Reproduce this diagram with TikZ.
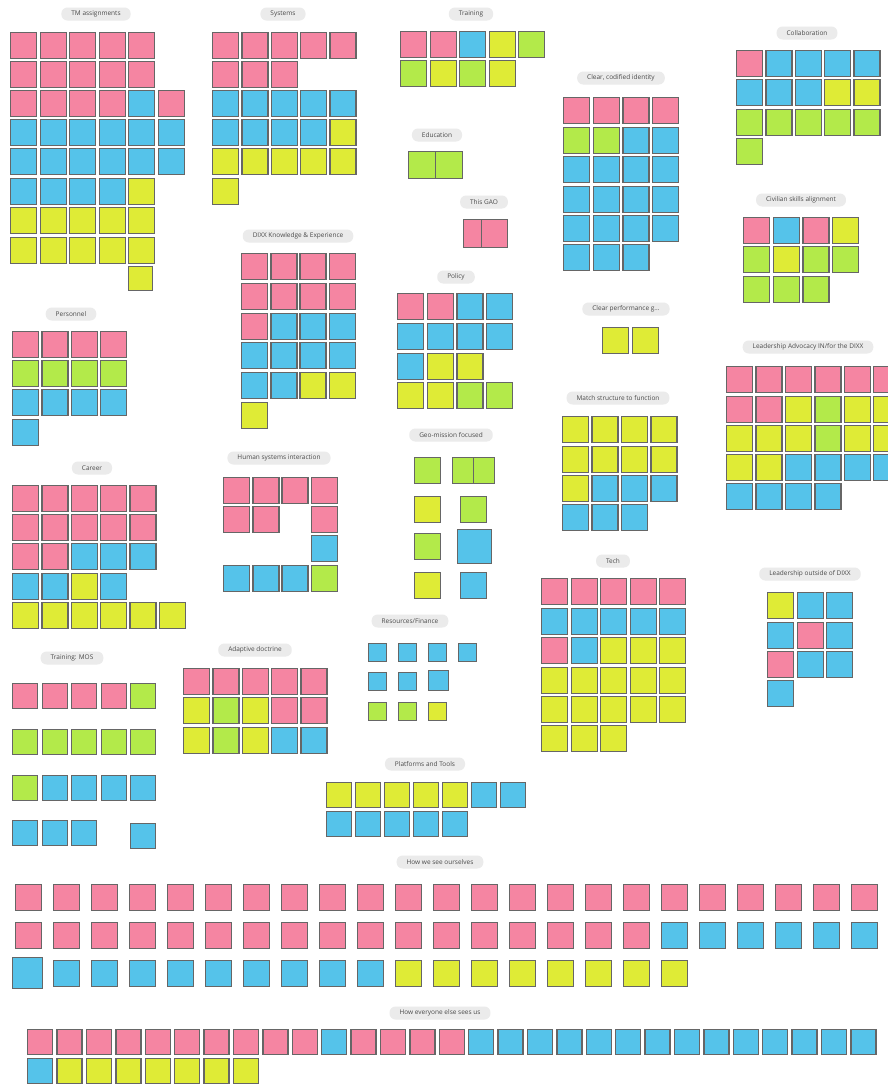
\documentclass[tikz,border=0pt]{standalone}
\usepackage{fontspec}
\newfontfamily\tfont{Open Sans}
\definecolor{cP}{HTML}{F585A2}
\definecolor{cB}{HTML}{55C3EA}
\definecolor{cY}{HTML}{DFEB36}
\definecolor{cG}{HTML}{B3EA4A}
\definecolor{pillbg}{HTML}{EBEBEB}
\definecolor{pilltx}{HTML}{4A4A4A}
\definecolor{edge}{HTML}{666666}
\newcounter{nt}
\newcommand\strow[5]{%
  \foreach \c [count=\i from 0] in {#5}{%
    \stepcounter{nt}%
    \node[note, fill=c\c, minimum width=#4pt, minimum height=#4pt] (s\thent) at ({#1+\i*#3},#2) {};}}
\newcommand\stone[5]{% x,y,w,h,colour
  \stepcounter{nt}%
  \node[note, fill=c#5, minimum width=#3pt, minimum height=#4pt] (s\thent) at (#1,#2) {};}
\begin{document}
\begin{tikzpicture}[x=1pt,y=-1pt,
  note/.style={draw=edge, line width=1.3pt, anchor=north west, inner sep=0pt, rectangle},
  pill/.style={fill=pillbg, rounded corners=6pt, text=pilltx, font=\tfont\fontsize{6.5}{7}\selectfont, inner xsep=10pt, inner ysep=0pt, minimum height=13pt}]
\fill[white] (0,0) rectangle (888,1085);
\useasboundingbox (0,0) rectangle (888,1085);

% TM assignments
\node[pill] (t1) at (96,14) {TM assignments};
\strow{10}{32}{29.5}{26}{P,P,P,P,P}
\strow{10}{61}{29.5}{26}{P,P,P,P,P}
\strow{10}{90}{29.5}{26}{P,P,P,P,B,P}
\strow{10}{119}{29.5}{26}{B,B,B,B,B,B}
\strow{10}{148}{29.5}{26}{B,B,B,B,B,B}
\strow{10}{178}{29.5}{26}{B,B,B,B,Y}
\strow{10}{207}{29.5}{26}{Y,Y,Y,Y,Y}
\strow{10}{237}{29.5}{26}{Y,Y,Y,Y,Y}
\stone{128}{266}{24}{24}{Y}

% Systems
\node[pill] (t2) at (283,14) {Systems};
\strow{212}{32}{29.3}{26}{P,P,P,P,P}
\strow{212}{61}{29.3}{26}{P,P,P}
\strow{212}{90}{29.3}{26}{B,B,B,B,B}
\strow{212}{119}{29.3}{26}{B,B,B,B,Y}
\strow{212}{148}{29.3}{26}{Y,Y,Y,Y,Y}
\strow{212}{178}{29.3}{26}{Y}

% Training
\node[pill] (t3) at (471,14) {Training};
\strow{400}{31}{29.5}{26}{P,P,B,Y,G}
\strow{400}{60}{29.5}{26}{G,Y,G,Y}

% Education
\node[pill] (t4) at (437,135) {Education};
\strow{408}{151}{27}{27}{G,G}

% This GAO
\node[pill] (t5) at (484,202) {This GAO};
\stone{463}{219}{18}{28}{P}
\stone{481}{219}{26}{28}{P}

% Clear, codified identity
\node[pill] (t6) at (621,78) {Clear, codified identity};
\strow{563}{97}{29.7}{26}{P,P,P,P}
\strow{563}{127}{29.7}{26}{G,G,B,B}
\strow{563}{156}{29.7}{26}{B,B,B,B}
\strow{563}{186}{29.7}{26}{B,B,B,B}
\strow{563}{215}{29.7}{26}{B,B,B,B}
\strow{563}{244}{29.7}{26}{B,B,B}

% Collaboration
\node[pill] (t7) at (807,33) {Collaboration};
\strow{736}{50}{29.3}{26}{P,B,B,B,B}
\strow{736}{79}{29.3}{26}{B,B,B,Y,Y}
\strow{736}{109}{29.3}{26}{G,G,G,G,G}
\strow{736}{138}{29.3}{26}{G}

% Civilian skills alignment
\node[pill] (t8) at (801,200) {Civilian skills alignment};
\strow{743}{217}{29.7}{26}{P,B,P,Y}
\strow{743}{246}{29.7}{26}{G,Y,G,G}
\strow{743}{276}{29.7}{26}{G,G,G}

% Personnel
\node[pill] (t9) at (71,314) {Personnel};
\strow{12}{331}{29.3}{26}{P,P,P,P}
\strow{12}{360}{29.3}{26}{G,G,G,G}
\strow{12}{389}{29.3}{26}{B,B,B,B}
\strow{12}{419}{29.3}{26}{B}

% Career
\node[pill] (t10) at (92,468) {Career};
\strow{12}{485}{29.3}{26}{P,P,P,P,P}
\strow{12}{514}{29.3}{26}{P,P,P,P,P}
\strow{12}{543}{29.3}{26}{P,P,B,B,B}
\strow{12}{573}{29.3}{26}{B,B,Y,B}
\strow{12}{602}{29.3}{26}{Y,Y,Y,Y,Y,Y}

% Human systems interaction
\node[pill] (t11) at (279,458) {Human systems interaction};
\strow{223}{477}{29.2}{26}{P,P,P,P}
\strow{223}{506}{29.2}{26}{P,P}
\stone{310.6}{506}{26}{26}{P}
\stone{310.6}{535}{26}{26}{B}
\strow{223}{565}{29.2}{26}{B,B,B,G}

% DIXX Knowledge & Experience
\node[pill] (t12) at (298,236) {DIXX Knowledge \& Experience};
\strow{241}{253}{29.2}{26}{P,P,P,P}
\strow{241}{283}{29.2}{26}{P,P,P,P}
\strow{241}{313}{29.2}{26}{P,B,B,B}
\strow{241}{342}{29.2}{26}{B,B,B,B}
\strow{241}{372}{29.2}{26}{B,B,Y,Y}
\strow{241}{402}{29.2}{26}{Y}

% Policy
\node[pill] (t13) at (456,277) {Policy};
\strow{397}{293}{29.7}{26}{P,P,B,B}
\strow{397}{323}{29.7}{26}{B,B,B,B}
\strow{397}{353}{29.7}{26}{B,Y,Y}
\strow{397}{382}{29.7}{26}{Y,Y,G,G}

% Geo-mission focused
\node[pill] (t14) at (451,435) {Geo-mission focused};
\stone{414}{457}{26}{26}{G}
\stone{452}{457}{21}{26}{G}
\stone{473}{457}{21}{26}{G}
\stone{414}{496}{26}{26}{Y}
\stone{460}{496}{26}{26}{G}
\stone{414}{533}{26}{26}{G}
\stone{457}{529}{34}{34}{B}
\stone{414}{572}{26}{26}{Y}
\stone{460}{572}{26}{26}{B}

% Clear performance g...
\node[pill] (t15) at (626,309) {Clear performance g...};
\strow{602}{327}{30}{26}{Y,Y}

% Match structure to function
\node[pill] (t16) at (618,398) {Match structure to function};
\strow{562}{416}{29.4}{26}{Y,Y,Y,Y}
\strow{562}{446}{29.4}{26}{Y,Y,Y,Y}
\strow{562}{475}{29.4}{26}{Y,B,B,B}
\strow{562}{504}{29.4}{26}{B,B,B}

% Leadership Advocacy
\node[pill] (t17) at (808,347) {Leadership Advocacy IN/for the DIXX};
\strow{726}{366}{29.4}{26}{P,P,P,P,P,P}
\strow{726}{396}{29.4}{26}{P,P,Y,G,Y,Y}
\strow{726}{425}{29.4}{26}{Y,Y,Y,G,Y,Y}
\strow{726}{454}{29.4}{26}{Y,Y,B,B,B,B}
\strow{726}{483}{29.4}{26}{B,B,B,B}

% Tech
\node[pill] (t18) at (613,561) {Tech};
\strow{541}{578}{29.5}{26}{P,P,P,P,P}
\strow{541}{608}{29.5}{26}{B,B,B,B,B}
\strow{541}{637}{29.5}{26}{P,B,Y,Y,Y}
\strow{541}{667}{29.5}{26}{Y,Y,Y,Y,Y}
\strow{541}{696}{29.5}{26}{Y,Y,Y,Y,Y}
\strow{541}{725}{29.5}{26}{Y,Y,Y}

% Leadership outside of DIXX
\node[pill] (t19) at (810,574) {Leadership outside of DIXX};
\strow{767}{592}{29.5}{26}{Y,B,B}
\strow{767}{622}{29.5}{26}{B,P,B}
\strow{767}{651}{29.5}{26}{P,B,B}
\strow{767}{680}{29.5}{26}{B}

% Training: MOS
\node[pill] (t20) at (72,658) {Training: MOS};
\strow{12}{683}{29.5}{25}{P,P,P,P,G}
\strow{12}{729}{29.5}{25}{G,G,G,G,G}
\strow{12}{775}{29.5}{25}{G,B,B,B,B}
\strow{12}{820}{29.5}{25}{B,B,B}
\stone{130}{823}{25}{25}{B}

% Adaptive doctrine
\node[pill] (t21) at (255,650) {Adaptive doctrine};
\strow{183}{668}{29.3}{26}{P,P,P,P,P}
\strow{183}{697}{29.3}{26}{Y,G,Y,P,P}
\strow{183}{727}{29.3}{26}{Y,G,Y,B,B}

% Resources/Finance
\node[pill] (t22) at (410,621) {Resources/Finance};
\strow{368}{643}{30}{18}{B,B,B,B}
\strow{368}{672}{30}{18}{B,B}
\stone{428}{670}{20}{20}{B}
\strow{368}{702}{30}{18}{G,G,Y}

% Platforms and Tools
\node[pill] (t23) at (425,764) {Platforms and Tools};
\strow{326}{782}{29}{25}{Y,Y,Y,Y,Y,B,B}
\strow{326}{811}{29}{25}{B,B,B,B,B}

% How we see ourselves
\node[pill] (t24) at (440,862) {How we see ourselves};
\strow{15}{884}{38}{26}{P,P,P,P,P,P,P,P,P,P,P,P,P,P,P,P,P,P,P,P,P,P,P}
\strow{15}{922}{38}{26}{P,P,P,P,P,P,P,P,P,P,P,P,P,P,P,P,P,B,B,B,B,B,B}
\stone{12}{957}{30}{31}{B}
\strow{53}{960}{38}{26}{B,B,B,B,B,B,B,B,B,Y,Y,Y,Y,Y,Y,Y,Y}

% How everyone else sees us
\node[pill] (t25) at (440,1013) {How everyone else sees us};
\strow{27}{1029}{29.4}{25}{P,P,P,P,P,P,P,P,P,P,B,P,P,P,P,B,B,B,B,B,B,B,B,B,B,B,B,B,B}
\strow{27}{1058}{29.4}{25}{B,Y,Y,Y,Y,Y,Y,Y}
\end{tikzpicture}
\end{document}
